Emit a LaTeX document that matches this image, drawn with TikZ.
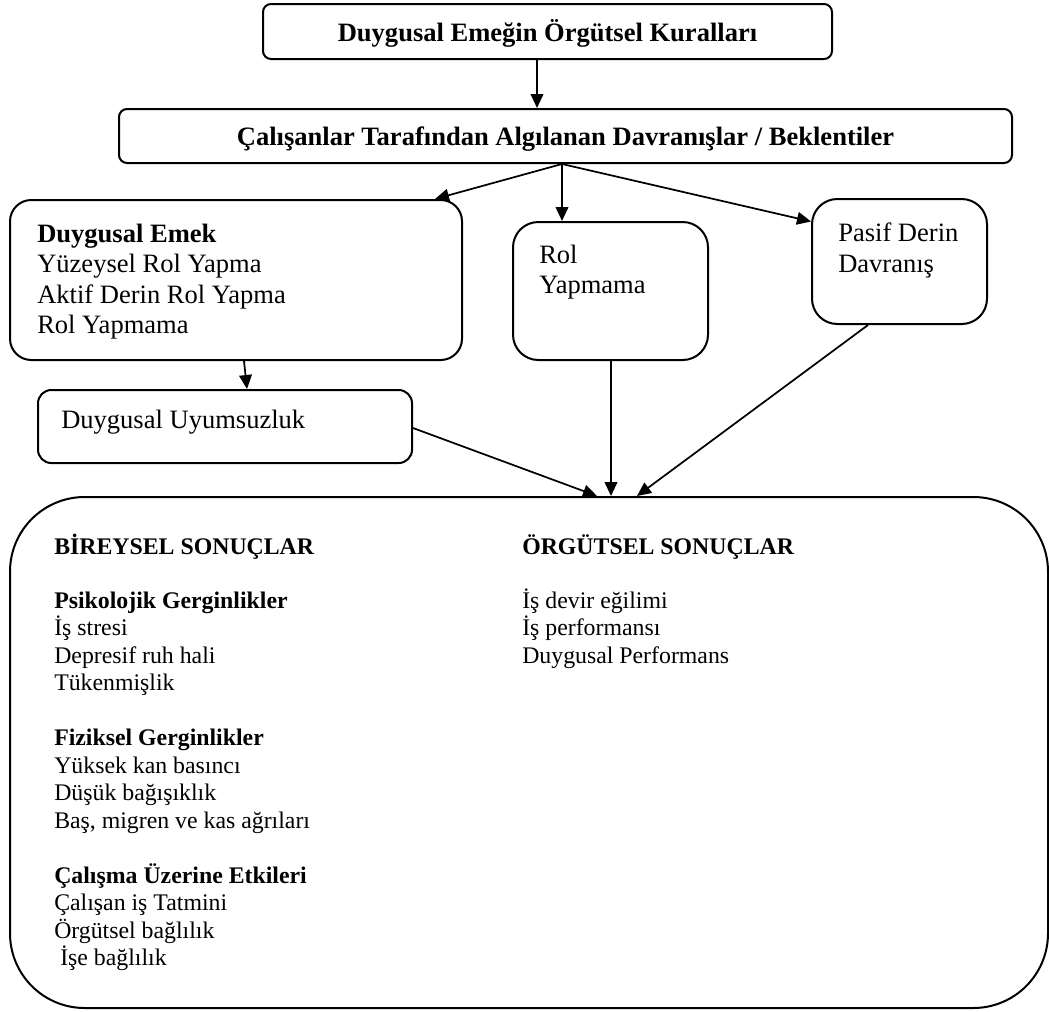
\documentclass[tikz,border=0pt]{standalone}
\usepackage{fontspec}
\setmainfont{Liberation Serif}
\usetikzlibrary{arrows.meta,calc,fit}
\newcommand\ftup{\fontsize{19.9pt}{23pt}\selectfont}
\newcommand\ftlow{\fontsize{17.85pt}{21pt}\selectfont}
\begin{document}
\begin{tikzpicture}[x=0.75pt,y=-0.75pt,
  box/.style={draw, line width=1.5pt, inner sep=0pt},
  conn/.style={line width=1.3pt, -{Triangle[length=10.5pt,width=9.5pt]}},
  up/.style={font=\ftup, inner sep=0pt, anchor=base west},
  low/.style={font=\ftlow, inner sep=0pt, anchor=base west}]
\useasboundingbox (0,0) rectangle (1049,1011);

% boxes
\node[box, rounded corners=6pt, fit={(263,4) (832,59)}] (rules) {};
\node[box, rounded corners=6pt, fit={(119,109) (1012,163)}] (percv) {};
\node[box, rounded corners=16pt, fit={(10,200) (462,360)}] (emek) {};
\node[box, rounded corners=19pt, fit={(513,222) (708,360)}] (rol) {};
\node[box, rounded corners=19pt, fit={(812,199) (987,324)}] (pasif) {};
\node[box, rounded corners=10pt, fit={(38,390) (412,463)}] (uyum) {};
\node[box, rounded corners=56pt, fit={(10,497) (1048,1008)}] (res) {};

% texts of the upper boxes
\node[up, anchor=base] (rulesT) at (547.5,41) {\bfseries Duygusal Emeğin Örgütsel Kuralları};
\node[up, anchor=base] (percvT) at (565.5,145) {\bfseries Çalışanlar Tarafından Algılanan Davranışlar / Beklentiler};

\node[up] (emek1) at (37,242) {\bfseries Duygusal Emek};
\node[up] (emek2) at (37,272.5) {Yüzeysel Rol Yapma};
\node[up] (emek3) at (37,303) {Aktif Derin Rol Yapma};
\node[up] (emek4) at (37,333.5) {Rol Yapmama};

\node[up] (rol1) at (539,263) {Rol};
\node[up] (rol2) at (539,293) {Yapmama};

\node[up] (pasif1) at (838,241) {Pasif Derin};
\node[up] (pasif2) at (838,272) {Davranış};

\node[up] (uyumT) at (61,428) {Duygusal Uyumsuzluk};

% individual outcomes
\node[low] (b0) at (54,554) {\bfseries BİREYSEL SONUÇLAR};
\node[low] (b1) at (54,608) {\bfseries Psikolojik Gerginlikler};
\node[low] (b2) at (54,635.5) {İş stresi};
\node[low] (b3) at (54,663) {Depresif ruh hali};
\node[low] (b4) at (54,690.5) {Tükenmişlik};
\node[low] (b5) at (54,745.5) {\bfseries Fiziksel Gerginlikler};
\node[low] (b6) at (54,773) {Yüksek kan basıncı};
\node[low] (b7) at (54,800.5) {Düşük bağışıklık};
\node[low] (b8) at (54,828) {Baş, migren ve kas ağrıları};
\node[low] (b9) at (54,883) {\bfseries Çalışma Üzerine Etkileri};
\node[low] (b10) at (54,910.5) {Çalışan iş Tatmini};
\node[low] (b11) at (54,938) {Örgütsel bağlılık};
\node[low] (b12) at (60,965.5) {İşe bağlılık};

% organisational outcomes
\node[low] (o0) at (522,554) {\bfseries ÖRGÜTSEL SONUÇLAR};
\node[low] (o1) at (522,608) {İş devir eğilimi};
\node[low] (o2) at (522,635.5) {İş performansı};
\node[low] (o3) at (522,663) {Duygusal Performans};

% connectors
\draw[conn] ($(rules.south)+(-10.5,0)$) -- ($(percv.north)+(-28.5,0)$);
\coordinate (fan) at ($(percv.south)+(-3.5,0)$);
\draw[conn] (fan) -- ($(emek.north)+(199,0)$);
\draw[conn] (fan) -- ($(rol.north)+(-48.5,0)$);
\draw[conn] (fan) -- ($(pasif.west)+(0,-40)$);
\draw[conn] ($(emek.south)+(8,0)$) -- ($(uyum.north)+(22,0)$);
\draw[conn] ($(uyum.east)+(0,1.5)$) -- ($(res.north)+(68,0)$);
\draw[conn] ($(rol.south)+(0.5,0)$) -- ($(res.north)+(82,0)$);
\draw[conn] ($(pasif.south)+(-31.5,0)$) -- ($(res.north)+(108,0)$);
\end{tikzpicture}
\end{document}
